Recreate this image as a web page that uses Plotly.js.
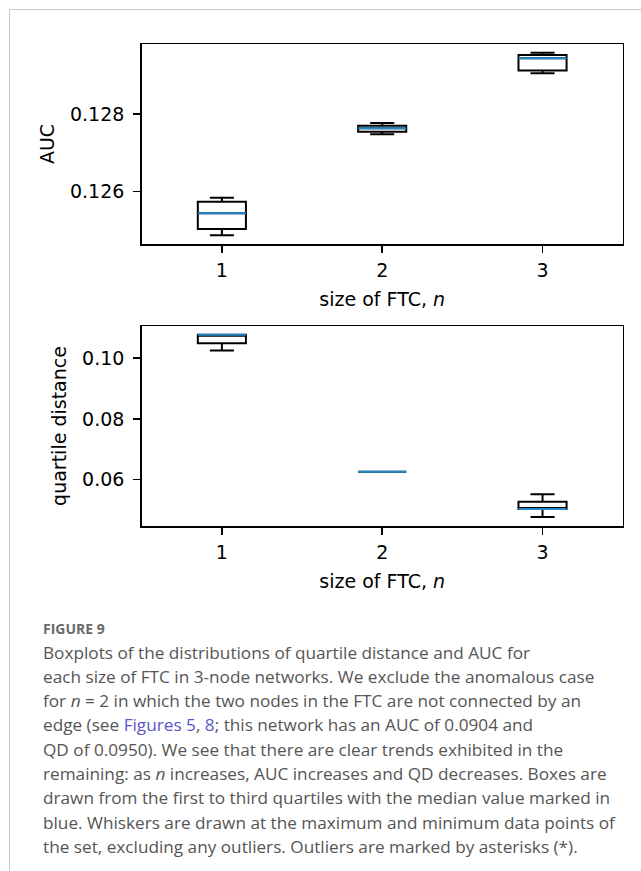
<!DOCTYPE html>
<html>
<head>
<meta charset="utf-8">
<script src="https://cdn.plot.ly/plotly-3.0.1.min.js"></script>
<style>
html,body{margin:0;padding:0;background:#fff;}
#chart{width:641px;height:871px;}
</style>
</head>
<body>
<div id="chart"></div>
<script>
// ---- data ----
const sizes = [1, 2, 3];

const aucLower = [0.124878, 0.127477, 0.129048];
const aucQ1 = [0.125040, 0.127544, 0.129115];
const aucMedian = [0.125444, 0.127632, 0.129434];
const aucQ3 = [0.125743, 0.127699, 0.129519];
const aucUpper = [0.125846, 0.127768, 0.129578];

const qdLower = [0.10250, 0.06263, 0.04771];
const qdQ1 = [0.10494, 0.06263, 0.05034];
const qdMedian = [0.10768, 0.06263, 0.05034];
const qdQ3 = [0.10768, 0.06263, 0.05275];
const qdUpper = [0.10768, 0.06263, 0.05519];

const aucTicks = [0.126, 0.128];
const qdTicks = [0.06, 0.08, 0.10];
const xTitle = 'size of FTC, <i>n</i>';

const captionHead = 'FIGURE 9';
const captionLines = [
  'Boxplots of the distributions of quartile distance and AUC for',
  'each size of FTC in 3-node networks. We exclude the anomalous case',
  'for <i>n</i> = 2 in which the two nodes in the FTC are not connected by an',
  'edge (see <span style="color:#5b55c9">Figures 5</span>, <span style="color:#5b55c9">8</span>; this network has an AUC of 0.0904 and',
  'QD of 0.0950). We see that there are clear trends exhibited in the',
  'remaining: as <i>n</i> increases, AUC increases and QD decreases. Boxes are',
  'drawn from the first to third quartiles with the median value marked in',
  'blue. Whiskers are drawn at the maximum and minimum data points of',
  'the set, excluding any outliers. Outliers are marked by asterisks (*).'
];

// ---- styling ----
const W = 641, H = 871;
const px = v => v / W;
const py = v => 1 - v / H;
const boxLine = {color: '#000000', width: 2};
const medLine = {color: '#2389c9', width: 2};
const plotFont = {family: 'DejaVu Sans, sans-serif', size: 19, color: '#000'};

function boxTrace(xa, ya, lo, q1, med, q3, hi, line) {
  return {
    type: 'box', x: sizes, xaxis: xa, yaxis: ya,
    lowerfence: lo, q1: q1, median: med, q3: q3, upperfence: hi,
    width: 0.3, whiskerwidth: 0.5,
    line: line, fillcolor: 'rgba(0,0,0,0)',
    boxpoints: false, showlegend: false, hoverinfo: 'skip'
  };
}

const data = [
  boxTrace('x', 'y', aucLower, aucQ1, aucMedian, aucQ3, aucUpper, boxLine),
  boxTrace('x', 'y', aucMedian, aucMedian, aucMedian, aucMedian, aucMedian, medLine),
  boxTrace('x2', 'y2', qdLower, qdQ1, qdMedian, qdQ3, qdUpper, boxLine),
  boxTrace('x2', 'y2', qdMedian, qdMedian, qdMedian, qdMedian, qdMedian, medLine)
];

const axCommon = {
  showline: true, mirror: true, linecolor: '#000', linewidth: 1.5,
  ticks: 'outside', ticklen: 7, tickwidth: 1.5, tickcolor: '#000',
  showgrid: false, zeroline: false, tickfont: plotFont, fixedrange: true
};

const xCommon = Object.assign({}, axCommon, {
  range: [0.5, 3.5], tickvals: sizes, ticktext: sizes.map(String),
  domain: [px(141.7), px(622.7)], ticklabelstandoff: 2
});

const layout = {
  width: W, height: H,
  margin: {l: 0, r: 0, t: 0, b: 0},
  paper_bgcolor: '#fff', plot_bgcolor: '#fff',
  boxmode: 'overlay', showlegend: false,
  font: plotFont,
  xaxis: Object.assign({}, xCommon, {anchor: 'y', title: {text: xTitle, font: plotFont, standoff: 12}}),
  yaxis: Object.assign({}, axCommon, {
    anchor: 'x', domain: [py(244), py(44)], range: [0.124654, 0.1298],
    tickvals: aucTicks, tickformat: '.3f', ticklabelstandoff: 5,
    title: {text: 'AUC', font: plotFont, standoff: 10}
  }),
  xaxis2: Object.assign({}, xCommon, {anchor: 'y2', title: {text: xTitle, font: plotFont, standoff: 12}}),
  yaxis2: Object.assign({}, axCommon, {
    anchor: 'x2', domain: [py(526), py(326)], range: [0.04474, 0.1106],
    tickvals: qdTicks, tickformat: '.2f', ticklabelstandoff: 5,
    title: {text: 'quartile distance', font: plotFont, standoff: 10}
  }),
  shapes: [{
    type: 'rect', xref: 'paper', yref: 'paper',
    x0: px(9.5), x1: px(660), y0: py(900), y1: py(9.5),
    line: {color: '#c8c8c8', width: 1}, fillcolor: 'rgba(0,0,0,0)', layer: 'below'
  }],
  annotations: []
};

layout.annotations.push({
  xref: 'paper', yref: 'paper', x: px(41), y: py(628), xanchor: 'left', yanchor: 'middle',
  text: '<b>' + captionHead + '</b>', showarrow: false,
  font: {family: 'Open Sans', size: 14, color: '#6a6a6a'}
});
captionLines.forEach((t, i) => {
  layout.annotations.push({
    xref: 'paper', yref: 'paper', x: px(41), y: py(652 + i * 24.3), xanchor: 'left', yanchor: 'middle',
    text: t, showarrow: false, align: 'left',
    font: {family: 'Open Sans', size: 17.2, color: '#555555'}
  });
});

Plotly.newPlot('chart', data, layout, {staticPlot: true});
</script>
</body>
</html>
